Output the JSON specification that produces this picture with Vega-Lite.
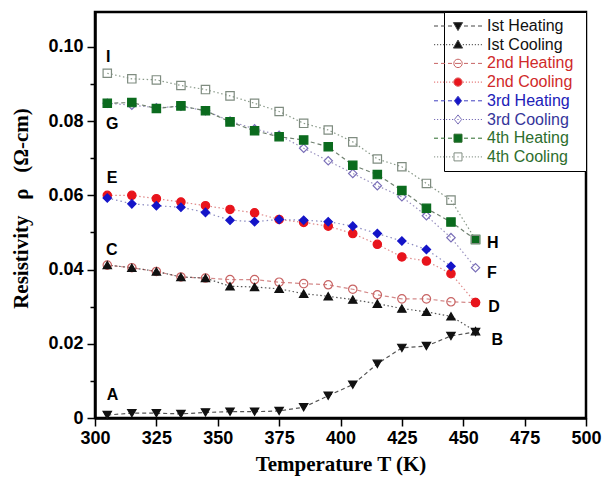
{
  "$schema": "https://vega.github.io/schema/vega-lite/v6.json",
  "width": 491,
  "height": 406,
  "autosize": {"type": "none"},
  "padding": {"left": 95, "top": 12, "right": 17, "bottom": 63},
  "background": "white",
  "config": {
    "view": {"stroke": "black", "strokeWidth": 2.5},
    "axis": {
      "labelFont": "Liberation Sans", "labelFontSize": 18, "labelFontWeight": "bold", "labelColor": "black",
      "titleFont": "Liberation Serif", "titleFontSize": 21, "titleFontWeight": "bold", "titleColor": "black",
      "domainColor": "black", "domainWidth": 2.5, "tickColor": "black", "tickWidth": 1.5, "grid": false,
      "labelOverlap": false, "labelFlush": false, "labelBound": false
    },
    "legend": {
      "orient": "top-right", "offset": 0, "padding": 6, "rowPadding": 2.7,
      "fillColor": "white", "strokeColor": "black",
      "labelFont": "Liberation Sans", "labelFontSize": 16, "labelFontWeight": "normal",
      "symbolSize": 225, "symbolStrokeWidth": 1, "symbolOffset": 0, "labelOffset": 21
    }
  },
  "resolve": {"scale": {"shape": "independent", "fill": "independent", "stroke": "independent"}},
  "datasets": {
    "pts": [
      {"s":"Ist Heating","T":305,"v":0.0008},{"s":"Ist Heating","T":315,"v":0.0013},{"s":"Ist Heating","T":325,"v":0.0013},{"s":"Ist Heating","T":335,"v":0.0011},{"s":"Ist Heating","T":345,"v":0.0015},{"s":"Ist Heating","T":355,"v":0.0017},{"s":"Ist Heating","T":365,"v":0.0017},{"s":"Ist Heating","T":375,"v":0.0019},{"s":"Ist Heating","T":385,"v":0.0029},{"s":"Ist Heating","T":395,"v":0.0060},{"s":"Ist Heating","T":405,"v":0.0090},{"s":"Ist Heating","T":415,"v":0.0146},{"s":"Ist Heating","T":425,"v":0.0189},{"s":"Ist Heating","T":435,"v":0.0194},{"s":"Ist Heating","T":445,"v":0.0221},{"s":"Ist Heating","T":455,"v":0.0232},
      {"s":"2nd Heating","T":305,"v":0.0412},{"s":"2nd Heating","T":315,"v":0.0405},{"s":"2nd Heating","T":325,"v":0.0395},{"s":"2nd Heating","T":335,"v":0.0380},{"s":"2nd Heating","T":345,"v":0.0377},{"s":"2nd Heating","T":355,"v":0.0373},{"s":"2nd Heating","T":365,"v":0.0373},{"s":"2nd Heating","T":375,"v":0.0366},{"s":"2nd Heating","T":385,"v":0.0362},{"s":"2nd Heating","T":395,"v":0.0359},{"s":"2nd Heating","T":405,"v":0.0347},{"s":"2nd Heating","T":415,"v":0.0332},{"s":"2nd Heating","T":425,"v":0.0321},{"s":"2nd Heating","T":435,"v":0.0321},{"s":"2nd Heating","T":445,"v":0.0313},{"s":"2nd Heating","T":455,"v":0.0311},
      {"s":"Ist Cooling","T":305,"v":0.0412},{"s":"Ist Cooling","T":315,"v":0.0405},{"s":"Ist Cooling","T":325,"v":0.0395},{"s":"Ist Cooling","T":335,"v":0.0380},{"s":"Ist Cooling","T":345,"v":0.0377},{"s":"Ist Cooling","T":355,"v":0.0355},{"s":"Ist Cooling","T":365,"v":0.0353},{"s":"Ist Cooling","T":375,"v":0.0348},{"s":"Ist Cooling","T":385,"v":0.0335},{"s":"Ist Cooling","T":395,"v":0.0328},{"s":"Ist Cooling","T":405,"v":0.0319},{"s":"Ist Cooling","T":415,"v":0.0308},{"s":"Ist Cooling","T":425,"v":0.0295},{"s":"Ist Cooling","T":435,"v":0.0286},{"s":"Ist Cooling","T":445,"v":0.0274},{"s":"Ist Cooling","T":455,"v":0.0234},
      {"s":"2nd Cooling","T":305,"v":0.0600},{"s":"2nd Cooling","T":315,"v":0.0600},{"s":"2nd Cooling","T":325,"v":0.0591},{"s":"2nd Cooling","T":335,"v":0.0582},{"s":"2nd Cooling","T":345,"v":0.0572},{"s":"2nd Cooling","T":355,"v":0.0562},{"s":"2nd Cooling","T":365,"v":0.0553},{"s":"2nd Cooling","T":375,"v":0.0535},{"s":"2nd Cooling","T":385,"v":0.0527},{"s":"2nd Cooling","T":395,"v":0.0517},{"s":"2nd Cooling","T":405,"v":0.0497},{"s":"2nd Cooling","T":415,"v":0.0468},{"s":"2nd Cooling","T":425,"v":0.0434},{"s":"2nd Cooling","T":435,"v":0.0423},{"s":"2nd Cooling","T":445,"v":0.0389},{"s":"2nd Cooling","T":455,"v":0.0311},
      {"s":"3rd Heating","T":305,"v":0.0593},{"s":"3rd Heating","T":315,"v":0.0577},{"s":"3rd Heating","T":325,"v":0.0572},{"s":"3rd Heating","T":335,"v":0.0568},{"s":"3rd Heating","T":345,"v":0.0554},{"s":"3rd Heating","T":355,"v":0.0533},{"s":"3rd Heating","T":365,"v":0.0529},{"s":"3rd Heating","T":375,"v":0.0535},{"s":"3rd Heating","T":385,"v":0.0533},{"s":"3rd Heating","T":395,"v":0.0529},{"s":"3rd Heating","T":405,"v":0.0517},{"s":"3rd Heating","T":415,"v":0.0497},{"s":"3rd Heating","T":425,"v":0.0477},{"s":"3rd Heating","T":435,"v":0.0454},{"s":"3rd Heating","T":445,"v":0.0409},
      {"s":"3rd Cooling","T":305,"v":0.0848},{"s":"3rd Cooling","T":315,"v":0.0843},{"s":"3rd Cooling","T":325,"v":0.0836},{"s":"3rd Cooling","T":335,"v":0.0840},{"s":"3rd Cooling","T":345,"v":0.0828},{"s":"3rd Cooling","T":355,"v":0.0800},{"s":"3rd Cooling","T":365,"v":0.0779},{"s":"3rd Cooling","T":375,"v":0.0762},{"s":"3rd Cooling","T":385,"v":0.0727},{"s":"3rd Cooling","T":395,"v":0.0693},{"s":"3rd Cooling","T":405,"v":0.0659},{"s":"3rd Cooling","T":415,"v":0.0626},{"s":"3rd Cooling","T":425,"v":0.0596},{"s":"3rd Cooling","T":435,"v":0.0545},{"s":"3rd Cooling","T":445,"v":0.0486},{"s":"3rd Cooling","T":455,"v":0.0405},
      {"s":"4th Heating","T":305,"v":0.0848},{"s":"4th Heating","T":315,"v":0.0850},{"s":"4th Heating","T":325,"v":0.0834},{"s":"4th Heating","T":335,"v":0.0841},{"s":"4th Heating","T":345,"v":0.0828},{"s":"4th Heating","T":355,"v":0.0798},{"s":"4th Heating","T":365,"v":0.0774},{"s":"4th Heating","T":375,"v":0.0758},{"s":"4th Heating","T":385,"v":0.0749},{"s":"4th Heating","T":395,"v":0.0731},{"s":"4th Heating","T":405,"v":0.0681},{"s":"4th Heating","T":415,"v":0.0656},{"s":"4th Heating","T":425,"v":0.0613},{"s":"4th Heating","T":435,"v":0.0565},{"s":"4th Heating","T":445,"v":0.0528},{"s":"4th Heating","T":455,"v":0.0481},
      {"s":"4th Cooling","T":305,"v":0.0929},{"s":"4th Cooling","T":315,"v":0.0914},{"s":"4th Cooling","T":325,"v":0.0911},{"s":"4th Cooling","T":335,"v":0.0896},{"s":"4th Cooling","T":345,"v":0.0885},{"s":"4th Cooling","T":355,"v":0.0868},{"s":"4th Cooling","T":365,"v":0.0848},{"s":"4th Cooling","T":375,"v":0.0826},{"s":"4th Cooling","T":385,"v":0.0794},{"s":"4th Cooling","T":395,"v":0.0776},{"s":"4th Cooling","T":405,"v":0.0744},{"s":"4th Cooling","T":415,"v":0.0698},{"s":"4th Cooling","T":425,"v":0.0677},{"s":"4th Cooling","T":435,"v":0.0632},{"s":"4th Cooling","T":445,"v":0.0587},{"s":"4th Cooling","T":455,"v":0.0481}
    ],
    "ann": [
      {"t":"I","T":304.5,"v":0.0974},{"t":"G","T":304.5,"v":0.0792},{"t":"E","T":304.8,"v":0.0647},{"t":"C","T":304.5,"v":0.0453},{"t":"A","T":304.8,"v":0.0062},
      {"t":"H","T":459.7,"v":0.0472},{"t":"F","T":459.7,"v":0.0391},{"t":"D","T":460.2,"v":0.0299},{"t":"B","T":461.5,"v":0.0210}
    ]
  },
  "layer": [
    {
      "data": {"name": "pts"},
      "mark": {"type": "line", "strokeWidth": 1.2, "clip": false},
      "encoding": {
        "x": {"field": "T", "type": "quantitative", "scale": {"domain": [300, 500], "nice": false, "zero": false},
          "axis": {"title": "Temperature T (K)", "values": [300,312.5,325,337.5,350,362.5,375,387.5,400,412.5,425,437.5,450,462.5,475,487.5,500],
            "labelExpr": "datum.value % 25 === 0 ? datum.label : ''",
            "tickSize": {"condition": {"test": "datum.value % 25 === 0", "value": 8}, "value": 5},
            "labelPadding": 3, "titlePadding": 6}},
        "y": {"field": "v", "type": "quantitative", "scale": {"domain": [0, 0.1094], "nice": false, "zero": false},
          "axis": {"title": "Resistivity\u00a0\u00a0\u00a0ρ\u00a0\u00a0\u00a0(Ω-cm)", "values": [0,0.01,0.02,0.03,0.04,0.05,0.06,0.07,0.08,0.09,0.1],
            "labelExpr": "round(datum.value*100) % 2 === 0 ? (datum.value === 0 ? '0' : format(datum.value, '.2f')) : ''",
            "tickSize": {"condition": {"test": "round(datum.value*100) % 2 === 0", "value": 8}, "value": 5},
            "labelPadding": 4, "titleX": -74, "titleY": 196, "titleBaseline": "middle", "titleAngle": -90}},
        "color": {"field": "s", "type": "nominal", "legend": null,
          "scale": {"domain": ["2nd Cooling","2nd Heating","3rd Cooling","3rd Heating","4th Cooling","4th Heating","Ist Cooling","Ist Heating"],
            "range": ["#e08a8a","#d48a8a","#9a92c0","#8a8ac0","#8a9a8a","#708070","#555555","#555555"]}},
        "strokeDash": {"field": "s", "type": "nominal", "legend": null,
          "scale": {"domain": ["2nd Cooling","2nd Heating","3rd Cooling","3rd Heating","4th Cooling","4th Heating","Ist Cooling","Ist Heating"],
            "range": [[1.5,2.5],[4,3],[1.5,2.5],[1.5,3],[1.5,2.5],[4,3],[1.5,2.5],[4,3]]}}
      }
    },
    {
      "data": {"name": "pts"},
      "mark": {"type": "point", "filled": true, "strokeWidth": 1.2, "opacity": 1, "size": 70, "clip": false},
      "encoding": {
        "x": {"field": "T", "type": "quantitative"},
        "y": {"field": "v", "type": "quantitative"},
        "stroke": {"field": "s", "type": "nominal", "legend": null,
          "scale": {"domain": ["2nd Cooling","2nd Heating","3rd Cooling","3rd Heating","4th Cooling","4th Heating","Ist Cooling","Ist Heating"],
            "range": ["#e8141c","#c86464","#7a6fb8","#1414c8","#7f8c80","#0b6b1e","#111111","#111111"]}},
        "fill": {"field": "s", "type": "nominal", "legend": null,
          "scale": {"domain": ["2nd Cooling","2nd Heating","3rd Cooling","3rd Heating","4th Cooling","4th Heating","Ist Cooling","Ist Heating"],
            "range": ["#e8141c","transparent","transparent","#1414c8","transparent","#0b6b1e","#111111","#111111"]}},
        "shape": {"field": "s", "type": "nominal", "legend": null,
          "scale": {"domain": ["2nd Cooling","2nd Heating","3rd Cooling","3rd Heating","4th Cooling","4th Heating","Ist Cooling","Ist Heating"],
            "range": ["circle","circle","diamond","diamond","square","square","triangle-up","triangle-down"]}}
      }
    },
    {
      "data": {"name": "pts"},
      "transform": [{"filter": "datum.T > 1000"}],
      "mark": {"type": "point", "filled": true, "strokeWidth": 1, "opacity": 1},
      "encoding": {
        "x": {"field": "T", "type": "quantitative"},
        "y": {"field": "v", "type": "quantitative"},
        "shape": {"field": "s", "type": "nominal",
          "scale": {"domain": ["Ist Heating","Ist Cooling","2nd Heating","2nd Cooling","3rd Heating","3rd Cooling","4th Heating","4th Cooling"],
            "range": [
              "M-3.733,0H-3.733M15.9,0H15.9M-3.2,0H-2.667M-2.267,0H-1.733M-1.333,0H-0.8M0.8,0H1.333M1.733,0H2.267M2.667,0H3.2M-0.613,-0.453L0.613,-0.453L0,0.613Z",
              "M-3.733,0H-3.733M15.9,0H15.9M-3.2,0H-3.04M-2.8,0H-2.64M-2.4,0H-2.24M-2,0H-1.84M-1.6,0H-1.44M-1.2,0H-1.04M-0.8,0H-0.64M0.64,0H0.8M1.04,0H1.2M1.44,0H1.6M1.84,0H2M2.24,0H2.4M2.64,0H2.8M3.04,0H3.2M-0.613,0.453L0.613,0.453L0,-0.613Z",
              "M-3.733,0H-3.733M15.9,0H15.9M-3.2,0H-2.667M-2.267,0H-1.733M-1.333,0H-0.8M0.8,0H1.333M1.733,0H2.267M2.667,0H3.2M-0.4,0H0.4M0.56,0A0.56,0.56,0,1,1,-0.56,0A0.56,0.56,0,1,1,0.56,0Z",
              "M-3.733,0H-3.733M15.9,0H15.9M-3.2,0H-3.04M-2.8,0H-2.64M-2.4,0H-2.24M-2,0H-1.84M-1.6,0H-1.44M-1.2,0H-1.04M-0.8,0H-0.64M0.64,0H0.8M1.04,0H1.2M1.44,0H1.6M1.84,0H2M2.24,0H2.4M2.64,0H2.8M3.04,0H3.2M0.56,0A0.56,0.56,0,1,1,-0.56,0A0.56,0.56,0,1,1,0.56,0Z",
              "M-3.733,0H-3.733M15.9,0H15.9M-3.2,0H-2.667M-2.267,0H-1.733M-1.333,0H-0.8M0.8,0H1.333M1.733,0H2.267M2.667,0H3.2M0,-0.613L0.48,0L0,0.613L-0.48,0Z",
              "M-3.733,0H-3.733M15.9,0H15.9M-3.2,0H-3.04M-2.8,0H-2.64M-2.4,0H-2.24M-2,0H-1.84M-1.6,0H-1.44M-1.2,0H-1.04M-0.8,0H-0.64M0.64,0H0.8M1.04,0H1.2M1.44,0H1.6M1.84,0H2M2.24,0H2.4M2.64,0H2.8M3.04,0H3.2M-0.08,0H0.08M0,-0.613L0.48,0L0,0.613L-0.48,0Z",
              "M-3.733,0H-3.733M15.9,0H15.9M-3.2,0H-2.667M-2.267,0H-1.733M-1.333,0H-0.8M0.8,0H1.333M1.733,0H2.267M2.667,0H3.2M-0.533,-0.533H0.533V0.533H-0.533Z",
              "M-3.733,0H-3.733M15.9,0H15.9M-3.2,0H-3.04M-2.8,0H-2.64M-2.4,0H-2.24M-2,0H-1.84M-1.6,0H-1.44M-1.2,0H-1.04M-0.8,0H-0.64M0.64,0H0.8M1.04,0H1.2M1.44,0H1.6M1.84,0H2M2.24,0H2.4M2.64,0H2.8M3.04,0H3.2M-0.08,0H0.08M-0.533,-0.533H0.533V0.533H-0.533Z"
            ]},
          "legend": {
            "title": null,
            "labelColor": {"expr": "(datum.label === '2nd Heating' || datum.label === '2nd Cooling') ? '#d02a2a' : datum.label === '3rd Heating' ? '#2020b8' : datum.label === '3rd Cooling' ? '#35359a' : (datum.label === '4th Heating' || datum.label === '4th Cooling') ? '#2d6e2d' : '#111111'"}
          }
        },
        "fill": {"field": "s", "type": "nominal",
          "legend": {"title": null},
          "scale": {"domain": ["Ist Heating","Ist Cooling","2nd Heating","2nd Cooling","3rd Heating","3rd Cooling","4th Heating","4th Cooling"],
            "range": ["#111111","#111111","transparent","#e8141c","#1414c8","transparent","#0b6b1e","transparent"]}},
        "stroke": {"field": "s", "type": "nominal",
          "legend": {"title": null},
          "scale": {"domain": ["Ist Heating","Ist Cooling","2nd Heating","2nd Cooling","3rd Heating","3rd Cooling","4th Heating","4th Cooling"],
            "range": ["#444444","#444444","#c86464","#e06060","#4040c0","#7a6fb8","#2a6a2a","#7f8c80"]}}
      }
    },
    {
      "data": {"name": "ann"},
      "mark": {"type": "text", "align": "left", "baseline": "middle", "font": "Liberation Sans", "fontSize": 16, "fontWeight": "bold", "color": "black", "clip": false},
      "encoding": {
        "x": {"field": "T", "type": "quantitative"},
        "y": {"field": "v", "type": "quantitative"},
        "text": {"field": "t"}
      }
    }
  ]
}
